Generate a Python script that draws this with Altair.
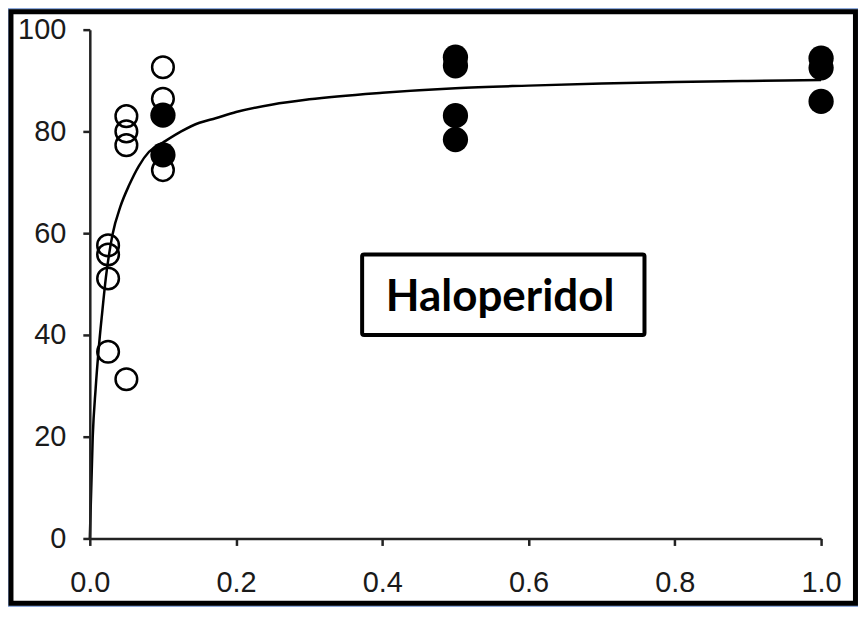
import altair as alt
import pandas as pd

# ---- data ----
open_dose = [0.025, 0.025, 0.025, 0.025, 0.05, 0.05, 0.05, 0.05, 0.1, 0.1, 0.1]
open_resp = [57.6, 55.8, 51.1, 36.7, 83.0, 80.0, 77.3, 31.3, 92.6, 86.4, 72.4]

filled_dose = [0.1, 0.1, 0.5, 0.5, 0.5, 0.5, 1.0, 1.0, 1.0]
filled_resp = [83.2, 75.4, 94.6, 92.9, 83.1, 78.4, 94.4, 92.5, 85.9]

curve_dose = [0, 0.004, 0.008, 0.012, 0.017, 0.022, 0.031, 0.042, 0.054, 0.067,
              0.081, 0.1, 0.125, 0.15, 0.172, 0.2, 0.25, 0.3, 0.4, 0.5, 0.6,
              0.7, 0.8, 0.9, 1.0]
curve_resp = [0, 20, 29.5, 37, 44.5, 51.3, 59.7, 65.3, 69.5, 73.2,
              76, 77.8, 80.0, 81.7, 82.6, 83.8, 85.3, 86.3, 87.6, 88.5, 89.0,
              89.4, 89.7, 89.9, 90.1]

x_ticks = [0.0, 0.2, 0.4, 0.6, 0.8, 1.0]
y_ticks = [0, 20, 40, 60, 80, 100]

label_text = ["Haloperidol"]
label_dose = [0.561]
label_resp = [44.7]
label_box_dose = [0.3724, 0.7585]
label_box_resp = [40.0, 55.8]

frame_dose = [-0.1078, 1.047]
frame_resp = [-12.75, 103.5]

# ---- tables ----
open_df = pd.DataFrame({"dose": open_dose, "resp": open_resp})
filled_df = pd.DataFrame({"dose": filled_dose, "resp": filled_resp})
curve_df = pd.DataFrame({"dose": curve_dose, "resp": curve_resp})
label_df = pd.DataFrame({"dose": label_dose, "resp": label_resp, "txt": label_text})
box_df = pd.DataFrame({"x1": [label_box_dose[0]], "x2": [label_box_dose[1]],
                       "y1": [label_box_resp[0]], "y2": [label_box_resp[1]]})
frame_df = pd.DataFrame({"x1": [frame_dose[0]], "x2": [frame_dose[1]],
                         "y1": [frame_resp[0]], "y2": [frame_resp[1]]})

xs = alt.Scale(domain=[0, 1], nice=False, zero=False)
ys = alt.Scale(domain=[0, 100], nice=False, zero=False)

axis_common = dict(
    grid=False, zindex=1, labelFlush=False,
    domainColor="#222222", domainWidth=2.5,
    tickColor="#222222", tickWidth=2.5, tickSize=7,
    labelFont="Liberation Sans", labelFontSize=29, labelColor="#1a1a1a",
)
x_axis = alt.Axis(values=x_ticks, format=".1f", labelPadding=23, **axis_common)
y_axis = alt.Axis(values=y_ticks, format="d", labelPadding=17, **axis_common)


def X(field):
    return alt.X(field, type="quantitative", scale=xs, axis=x_axis, title="")


def Y(field):
    return alt.Y(field, type="quantitative", scale=ys, axis=y_axis, title="")


frame = alt.Chart(frame_df).mark_rect(
    fill="white", stroke="black", strokeWidth=5
).encode(x=X("x1"), x2="x2", y=Y("y1"), y2="y2")

box = alt.Chart(box_df).mark_rect(
    fill="white", stroke="black", strokeWidth=4, cornerRadius=2
).encode(x=X("x1"), x2="x2", y=Y("y1"), y2="y2")

label = alt.Chart(label_df).mark_text(
    font="Lato", fontWeight="bold", fontSize=44, color="black",
    align="center", baseline="alphabetic"
).encode(x=X("dose"), y=Y("resp"), text="txt:N")

open_pts = alt.Chart(open_df).mark_point(
    shape="circle", filled=False, size=470, stroke="black", strokeWidth=2.5, opacity=1
).encode(x=X("dose"), y=Y("resp"))

curve = alt.Chart(curve_df).mark_line(
    color="black", strokeWidth=2.5, interpolate="monotone"
).encode(x=X("dose"), y=Y("resp"))

filled_pts = alt.Chart(filled_df).mark_point(
    shape="circle", filled=True, size=640, color="black", opacity=1
).encode(x=X("dose"), y=Y("resp"))

chart = alt.layer(frame, box, label, open_pts, curve, filled_pts).properties(
    width=733, height=510, padding=0, background="#8EAADB"
).configure_view(strokeWidth=0)

chart.save("out.html", embed_options={"renderer": "svg", "actions": False})
